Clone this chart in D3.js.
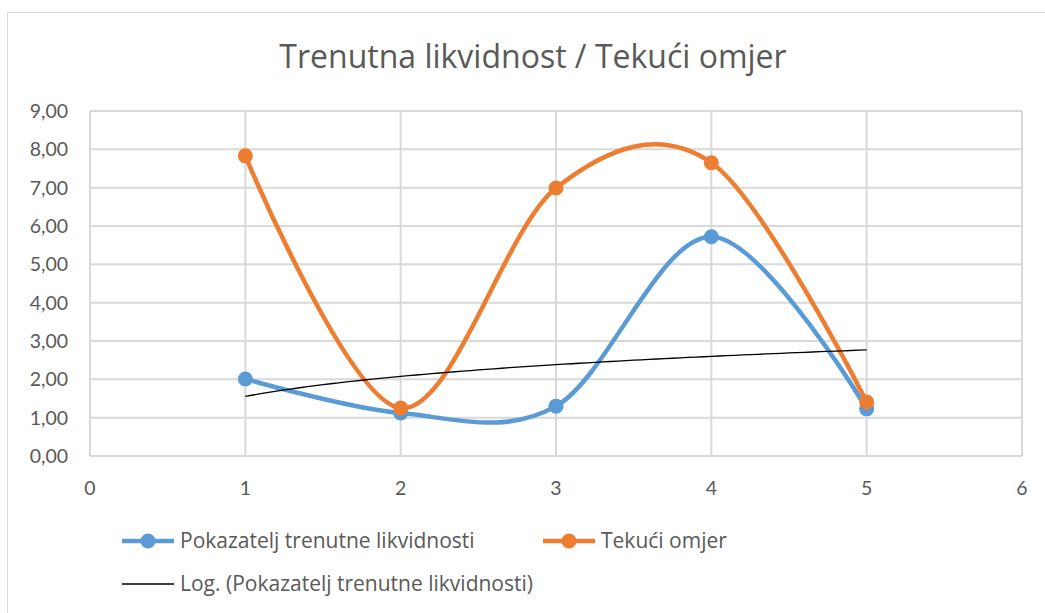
<!DOCTYPE html>
<html>
<head>
<meta charset="utf-8">
<script src="https://cdn.jsdelivr.net/npm/d3@7"></script>
<style>
  body { margin: 0; background: #fff; }
  svg text { font-family: "Open Sans", Lato, sans-serif; fill: #595959; }
  svg text.tick { font-family: Lato, "Open Sans", sans-serif; }
</style>
</head>
<body>
<div id="chart"></div>
<script>
// podaci
let godine = [1, 2, 3, 4, 5];
let pokazatelj = [2.01, 1.12, 1.30, 5.72, 1.23];
let tekuci = [7.83, 1.25, 6.99, 7.65, 1.41];
let yTicks = [0, 1, 2, 3, 4, 5, 6, 7, 8, 9];
let xTicks = [0, 1, 2, 3, 4, 5, 6];
let naslov = "Trenutna likvidnost / Tekući omjer";
let imena = ["Pokazatelj trenutne likvidnosti", "Tekući omjer", "Log. (Pokazatelj trenutne likvidnosti)"];

let larg = 1045;
let alt = 613;
let plavo = "#5b9bd5";
let narancasto = "#ed7d31";

let canvas = d3.select("#chart")
                .append("svg")
                .attr("width", larg)
                .attr("height", alt);

// okvir grafikona
canvas.append("rect")
        .attr("x", 7.5).attr("y", 12.5)
        .attr("width", 1100).attr("height", 700)
        .attr("fill", "none")
        .attr("stroke", "#d9d9d9");

canvas.append("text")
        .attr("x", 533).attr("y", 68)
        .attr("text-anchor", "middle")
        .style("font-size", "32px")
        .text(naslov);

var escX = d3.scaleLinear().domain([0, 6]).range([90, 1022]);
var escY = d3.scaleLinear().domain([0, 9]).range([456, 111]);

// mreza
canvas.append("g")
        .selectAll("line.h")
        .data(yTicks)
        .enter()
            .append("line")
            .attr("x1", escX(0)).attr("x2", escX(6))
            .attr("y1", d => escY(d)).attr("y2", d => escY(d))
            .attr("stroke", "#d9d9d9").attr("stroke-width", 2);

canvas.append("g")
        .selectAll("line.v")
        .data(xTicks)
        .enter()
            .append("line")
            .attr("x1", d => escX(d)).attr("x2", d => escX(d))
            .attr("y1", escY(0)).attr("y2", escY(9))
            .attr("stroke", "#d9d9d9").attr("stroke-width", 2);

// oznake osi
canvas.append("g")
        .selectAll("text")
        .data(yTicks)
        .enter()
            .append("text")
            .attr("class", "tick")
            .attr("x", 68)
            .attr("y", d => escY(d) + 7)
            .attr("text-anchor", "end")
            .style("font-size", "19.5px")
            .text(d => d3.format(".2f")(d).replace(".", ","));

canvas.append("g")
        .selectAll("text")
        .data(xTicks)
        .enter()
            .append("text")
            .attr("class", "tick")
            .attr("x", d => escX(d))
            .attr("y", 495)
            .attr("text-anchor", "middle")
            .style("font-size", "19.5px")
            .text(d => d);

// logaritamski trend (najmanji kvadrati)
let lnx = godine.map(Math.log);
let mx = d3.mean(lnx), my = d3.mean(pokazatelj);
let a = d3.sum(lnx, (v, i) => (v - mx) * (pokazatelj[i] - my)) / d3.sum(lnx, v => (v - mx) * (v - mx));
let b = my - a * mx;
let trendX = d3.range(1, 5.001, 0.05);

let linija = d3.line()
                .x(d => escX(d[0]))
                .y(d => escY(d[1]))
                .curve(d3.curveCardinal.tension(0));

let serije = [
    { boja: plavo, vr: pokazatelj },
    { boja: narancasto, vr: tekuci }
];

serije.forEach(s => {
    let pts = godine.map((g, i) => [g, s.vr[i]]);
    canvas.append("path")
            .attr("d", linija(pts))
            .attr("fill", "none")
            .attr("stroke", s.boja)
            .attr("stroke-width", 4.5)
            .attr("stroke-linecap", "round");
    canvas.append("g")
            .selectAll("circle")
            .data(pts)
            .enter()
                .append("circle")
                .attr("cx", d => escX(d[0]))
                .attr("cy", d => escY(d[1]))
                .attr("r", 7.5)
                .attr("fill", s.boja);
});

canvas.append("path")
        .attr("d", d3.line().x(d => escX(d)).y(d => escY(a * Math.log(d) + b))(trendX))
        .attr("fill", "none")
        .attr("stroke", "#000")
        .attr("stroke-width", 1.3);

// legenda
let leg = [
    { x: 122, y: 541, boja: plavo, marker: true, tekst: imena[0] },
    { x: 543, y: 541, boja: narancasto, marker: true, tekst: imena[1] },
    { x: 122, y: 584, boja: "#000", marker: false, tekst: imena[2] }
];
leg.forEach(l => {
    canvas.append("line")
            .attr("x1", l.x).attr("x2", l.x + 52)
            .attr("y1", l.y).attr("y2", l.y)
            .attr("stroke", l.boja)
            .attr("stroke-width", l.marker ? 4.5 : 1.3);
    if (l.marker) {
        canvas.append("circle")
                .attr("cx", l.x + 26).attr("cy", l.y)
                .attr("r", 7.5).attr("fill", l.boja);
    }
    canvas.append("text")
            .attr("x", l.x + 58).attr("y", l.y + 7)
            .style("font-size", "21px")
            .text(l.tekst);
});
</script>
</body>
</html>
